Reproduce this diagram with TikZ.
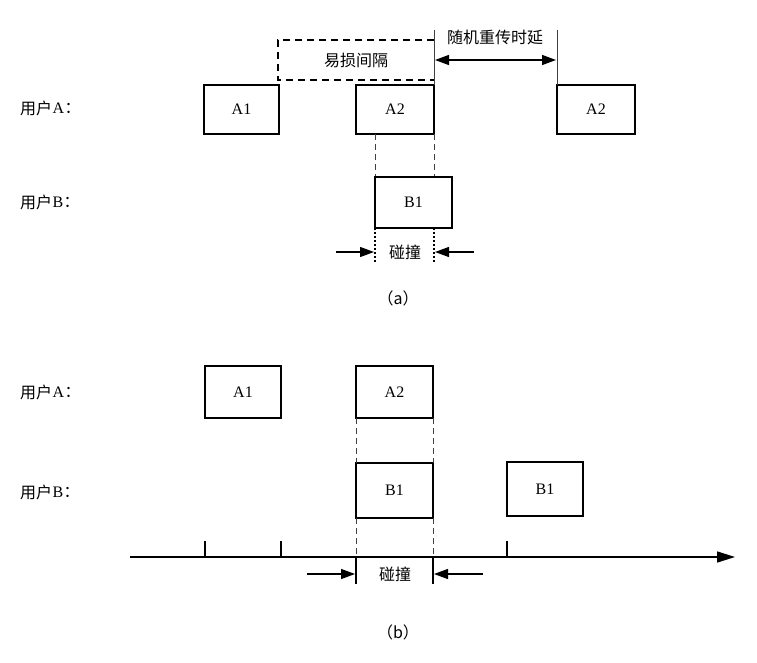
\documentclass[tikz,border=0pt]{standalone}
\usepackage{fontspec}
\setmainfont{Liberation Serif}
\newfontfamily\cjk{Noto Sans CJK SC}[Scale=1.0]
\usetikzlibrary{arrows.meta}
\begin{document}
\begin{tikzpicture}[x=1pt,y=-1pt,
  lbl/.style={font=\fontsize{16}{18}\selectfont},
  arr/.style={-{Triangle[length=14pt,width=10pt]},line width=1.2pt},
  thin/.style={draw=black!75,line width=0.6pt}]
\useasboundingbox (0,0) rectangle (757,663);
% (a)
\node[lbl,anchor=west,inner sep=0pt] (ua) at (20,108) {\cjk 用户}; \node[lbl,anchor=west,inner sep=0pt] (uaa) at (ua.east) {A}; \node[lbl,anchor=west,inner sep=0pt] at (uaa.east) {\cjk ：};
\node[lbl,anchor=west,inner sep=0pt] (ub) at (20,202) {\cjk 用户}; \node[lbl,anchor=west,inner sep=0pt] (ubb) at (ub.east) {B}; \node[lbl,anchor=west,inner sep=0pt] at (ubb.east) {\cjk ：};
\draw[line width=1.3pt] (204,85) rectangle (279,134); \node[lbl] (a1) at (241.5,109.5) {A1};
\draw[line width=1.3pt] (356,85) rectangle (434,134); \node[lbl] (a2) at (395,109.5) {A2};
\draw[line width=1.3pt] (557,85) rectangle (635,134); \node[lbl] (a3) at (596,109.5) {A2};
\draw[line width=1.3pt,dash pattern=on 7pt off 5pt] (434,40) -- (278,40) -- (278,80) -- (434,80);
\node[lbl] (ys) at (356,60) {\cjk 易损间隔};
\draw[thin] (434,30) -- (434,85);
\draw[thin] (557,30) -- (557,85);
\node[lbl,inner sep=0pt] (sj) at (495,37) {\cjk 随机重传时延};
\draw[{Triangle[length=14pt,width=10pt]}-{Triangle[length=14pt,width=10pt]},line width=1.4pt] (435,60) -- (556,60);
\draw[thin,dash pattern=on 6pt off 4pt] (375,134) -- (375,177) (434,134) -- (434,177);
\draw[line width=1.3pt] (375,177) rectangle (452,228); \node[lbl] (b1) at (413.5,202.5) {B1};
\draw[line width=1.1pt,dash pattern=on 2pt off 2pt] (375,228) -- (375,263) (434,228) -- (434,263);
\node[lbl] (pz) at (405,252) {\cjk 碰撞};
\coordinate (l1) at (336,252); \coordinate (r1) at (374,252);
\coordinate (l2) at (474,252); \coordinate (r2) at (435,252);
\draw[arr] (l1) -- (r1); \draw[arr] (l2) -- (r2);
\node[lbl] (ca) at (398,298) {\cjk （a）};
% (b)
\node[lbl,anchor=west,inner sep=0pt] (ua2) at (20,392) {\cjk 用户}; \node[lbl,anchor=west,inner sep=0pt] (ua3) at (ua2.east) {A}; \node[lbl,anchor=west,inner sep=0pt] at (ua3.east) {\cjk ：};
\node[lbl,anchor=west,inner sep=0pt] (ub2) at (20,492) {\cjk 用户}; \node[lbl,anchor=west,inner sep=0pt] (ub3) at (ub2.east) {B}; \node[lbl,anchor=west,inner sep=0pt] at (ub3.east) {\cjk ：};
\draw[line width=1.3pt] (205,366) rectangle (281,418); \node[lbl] at (243,392) {A1};
\draw[line width=1.3pt] (356,366) rectangle (433,418); \node[lbl] at (394.5,392) {A2};
\draw[line width=1.3pt] (356,463) rectangle (433,518); \node[lbl] at (394.5,490) {B1};
\draw[line width=1.3pt] (507,462) rectangle (583,516); \node[lbl] at (545,489) {B1};
\draw[thin,dash pattern=on 6pt off 4pt] (356,418) -- (356,463) (433,418) -- (433,463)
  (356,518) -- (356,557) (433,518) -- (433,557);
\coordinate (ax0) at (130,557); \coordinate (ax1) at (735,557);
\draw[-{Triangle[length=18pt,width=11pt]},line width=1.6pt] (ax0) -- (ax1);
\draw[line width=1.2pt] (205,541) -- (205,557) (281,541) -- (281,557) (507,541) -- (507,557);
\draw[line width=1.1pt] (356,557) -- (356,584) (433,557) -- (433,584);
\node[lbl] at (395,574) {\cjk 碰撞};
\coordinate (l3) at (307,574); \coordinate (r3) at (355,574);
\coordinate (l4) at (483,574); \coordinate (r4) at (434,574);
\draw[arr] (l3) -- (r3); \draw[arr] (l4) -- (r4);
\node[lbl] at (398,632) {\cjk （b）};
\end{tikzpicture}
\end{document}
